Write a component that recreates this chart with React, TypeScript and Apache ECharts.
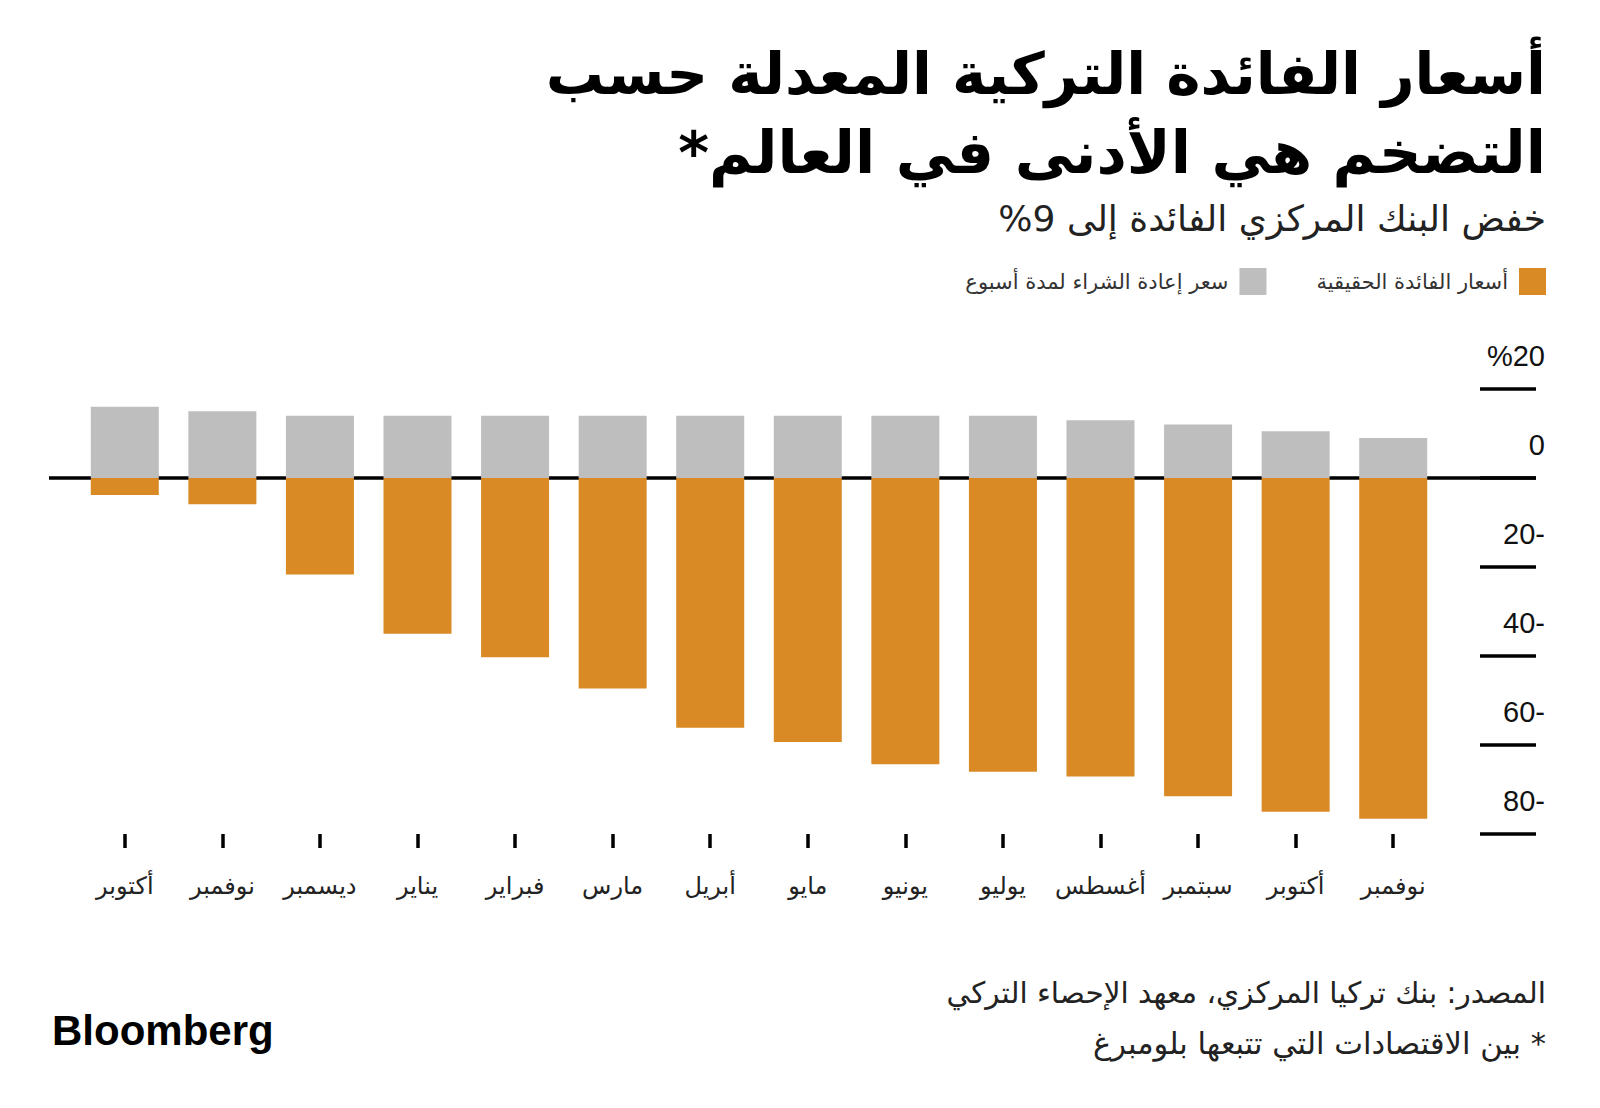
import React, { useEffect, useRef } from 'react';
import * as echarts from 'echarts';

const categories = ['أكتوبر', 'نوفمبر', 'ديسمبر', 'يناير', 'فبراير', 'مارس', 'أبريل', 'مايو', 'يونيو', 'يوليو', 'أغسطس', 'سبتمبر', 'أكتوبر', 'نوفمبر'];
const repoRate = [16, 15, 14, 14, 14, 14, 14, 14, 14, 14, 13, 12, 10.5, 9];
const realRate = [-3.8, -5.9, -21.7, -35.0, -40.3, -47.3, -56.1, -59.3, -64.3, -66.0, -67.1, -71.5, -75.0, -76.6];
const yTickLabels: Record<number, string> = { 20: '%20', 0: '0', '-20': '20-', '-40': '40-', '-60': '60-', '-80': '80-' } as any;

const seriesNames = ['سعر إعادة الشراء لمدة أسبوع', 'أسعار الفائدة الحقيقية'];
const titleLines = ['أسعار الفائدة التركية المعدلة حسب', 'التضخم هي الأدنى في العالم*'];
const subtitle = 'خفض البنك المركزي الفائدة إلى 9%';
const sourceText = 'المصدر: بنك تركيا المركزي، معهد الإحصاء التركي';
const noteText = '* بين الاقتصادات التي تتبعها بلومبرغ';

const rtl = (s: string) => '\u202B' + s + '\u202C';
const AR = '"DejaVu Sans", sans-serif';

export default function App() {
  const ref = useRef<HTMLDivElement>(null);
  useEffect(() => {
    document.body.style.margin = '0';
    const chart = echarts.init(ref.current!, undefined, { renderer: 'svg' });
    const option: any = {
      animation: false,
      backgroundColor: '#fff',
      grid: { left: 76, right: 158, top: 389, bottom: 274, containLabel: false },
      legend: {
        data: seriesNames,
        right: 49,
        top: 263,
        itemWidth: 27,
        itemHeight: 27,
        itemGap: 50,
        align: 'right',
        icon: 'rect',
        formatter: (n: string) => rtl(n),
        textStyle: { fontSize: 21, color: '#333', fontFamily: AR, padding: [0, 6, 0, 0] },
      },
      xAxis: {
        type: 'category',
        data: categories,
        axisLine: { show: false, onZero: false },
        axisTick: { show: true, alignWithLabel: true, interval: 0, length: 14, lineStyle: { color: '#000', width: 3.5 } },
        axisLabel: { interval: 0, margin: 40, fontSize: 24, color: '#222', fontFamily: AR },
        splitLine: { show: false },
      },
      yAxis: {
        type: 'value',
        min: -80,
        max: 20,
        interval: 20,
        position: 'right',
        offset: 38,
        axisLine: { show: false },
        axisTick: { show: true, length: 56, lineStyle: { color: '#000', width: 3.5 } },
        splitLine: { show: false },
        axisLabel: {
          margin: 65,
          align: 'right',
          verticalAlign: 'bottom',
          lineHeight: 66,
          fontSize: 29,
          color: '#111',
          fontFamily: '"Liberation Sans", Arial, sans-serif',
          formatter: (v: number) => yTickLabels[v] ?? String(v),
        },
      },
      series: [
        {
          name: seriesNames[0],
          type: 'bar',
          data: repoRate,
          barWidth: 68,
          barGap: '-100%',
          itemStyle: { color: '#BEBEBE' },
          z: 3,
        },
        {
          name: seriesNames[1],
          type: 'bar',
          data: realRate,
          barWidth: 68,
          barGap: '-100%',
          itemStyle: { color: '#D98A24' },
          z: 3,
        },
      ],
    };
    chart.setOption(option);
    const y0 = chart.convertToPixel({ yAxisIndex: 0 }, 0) as number;
    chart.setOption({
      graphic: [
        {
          type: 'line',
          z: 1,
          shape: { x1: 49, y1: y0, x2: 1536, y2: y0 },
          style: { stroke: '#000', lineWidth: 3.5 },
        },
        {
          type: 'text',
          x: 1546,
          y: 74,
          style: { text: rtl(titleLines[0]), align: 'right', verticalAlign: 'middle', font: `bold 58px ${AR}`, fill: '#000' },
        },
        {
          type: 'text',
          x: 1546,
          y: 152,
          style: { text: rtl(titleLines[1]), align: 'right', verticalAlign: 'middle', font: `bold 59px ${AR}`, fill: '#000' },
        },
        {
          type: 'text',
          x: 1546,
          y: 218,
          style: { text: rtl(subtitle), align: 'right', verticalAlign: 'middle', font: `36px ${AR}`, fill: '#222' },
        },
        {
          type: 'text',
          x: 1546,
          y: 993,
          style: { text: rtl(sourceText), align: 'right', verticalAlign: 'middle', font: `29.5px ${AR}`, fill: '#222' },
        },
        {
          type: 'text',
          x: 1546,
          y: 1043,
          style: { text: rtl(noteText), align: 'right', verticalAlign: 'middle', font: `30.5px ${AR}`, fill: '#222' },
        },
        {
          type: 'text',
          x: 52,
          y: 1030,
          style: { text: 'Bloomberg', align: 'left', verticalAlign: 'middle', font: 'bold 42px "Liberation Sans", Arial, sans-serif', fill: '#000' },
        },
      ],
    });
    return () => chart.dispose();
  }, []);
  return <div ref={ref} style={{ width: 1600, height: 1108 }} />;
}
